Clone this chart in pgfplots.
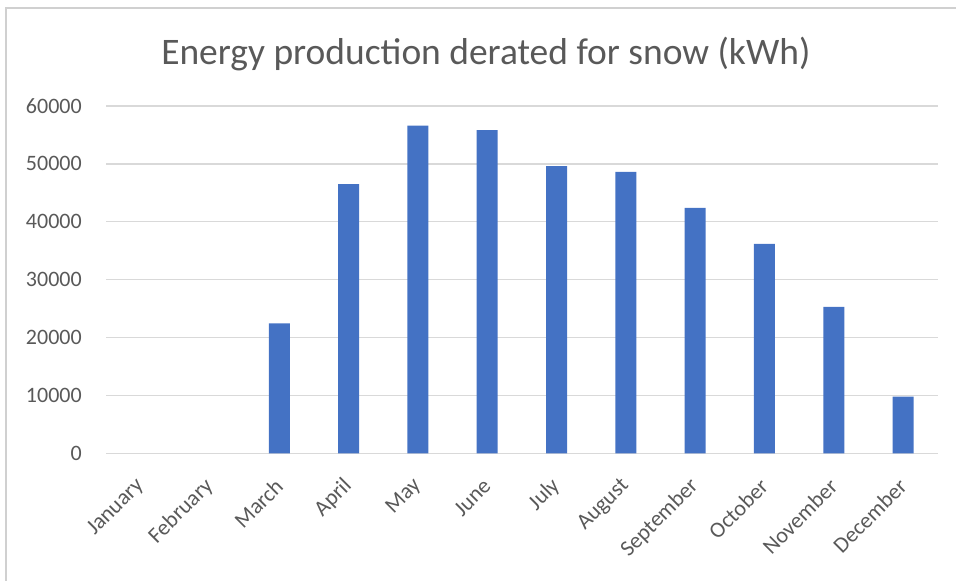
\documentclass[border=0pt]{standalone}
\usepackage{pgfplots}
\pgfplotsset{compat=1.18}
\usepackage{fontspec}
\setmainfont{Carlito}
\definecolor{barblue}{HTML}{4472C4}
\definecolor{txtgray}{HTML}{595959}
\definecolor{gridgray}{HTML}{D9D9D9}
\definecolor{framegray}{HTML}{D0D0D0}
\begin{document}
\begin{tikzpicture}
\useasboundingbox (0,0) rectangle (717pt,435.75pt);
\draw[framegray, line width=1.2pt] (4.3pt,0) -- (4.3pt,429.75pt) -- (717pt,429.75pt);
\node[anchor=base, text=txtgray, font=\fontsize{28.1}{30}\selectfont, inner sep=0pt] at (364.4pt,387pt) {Energy production derated for snow (kWh)};
\begin{axis}[
  at={(79.5pt,95.8pt)}, anchor=south west,
  scale only axis,
  width=623.8pt, height=260.5pt,
  xmin=-0.5, xmax=11.5,
  ymin=0, ymax=60000,
  ytick={0,10000,20000,30000,40000,50000,60000},
  xtick={0,1,2,3,4,5,6,7,8,9,10,11},
  xticklabels={January,February,March,April,May,June,July,August,September,October,November,December},
  scaled y ticks=false,
  /pgf/number format/.cd, fixed, 1000 sep={}, assume math mode=true, /pgfplots/.cd,
  axis line style={draw=none},
  major tick length=0pt,
  ymajorgrids,
  grid style={gridgray, line width=1.1pt},
  yticklabel shift=18pt,
  yticklabel style={text=txtgray, font=\fontsize{16.5}{18}\selectfont, anchor=east, inner sep=0pt},
  xticklabel shift=22pt,
  xticklabel style={text=txtgray, font=\fontsize{16.7}{18}\selectfont, inner sep=0pt, rotate=45, anchor=east},
  ybar, bar width=15.75pt,
  clip=false,
]
\addplot[fill=barblue, draw=none] coordinates {
  (2,22450) (3,46500) (4,56600) (5,55800)
  (6,49600) (7,48600) (8,42400) (9,36150) (10,25300) (11,9800)
};
\end{axis}
\end{tikzpicture}
\end{document}
